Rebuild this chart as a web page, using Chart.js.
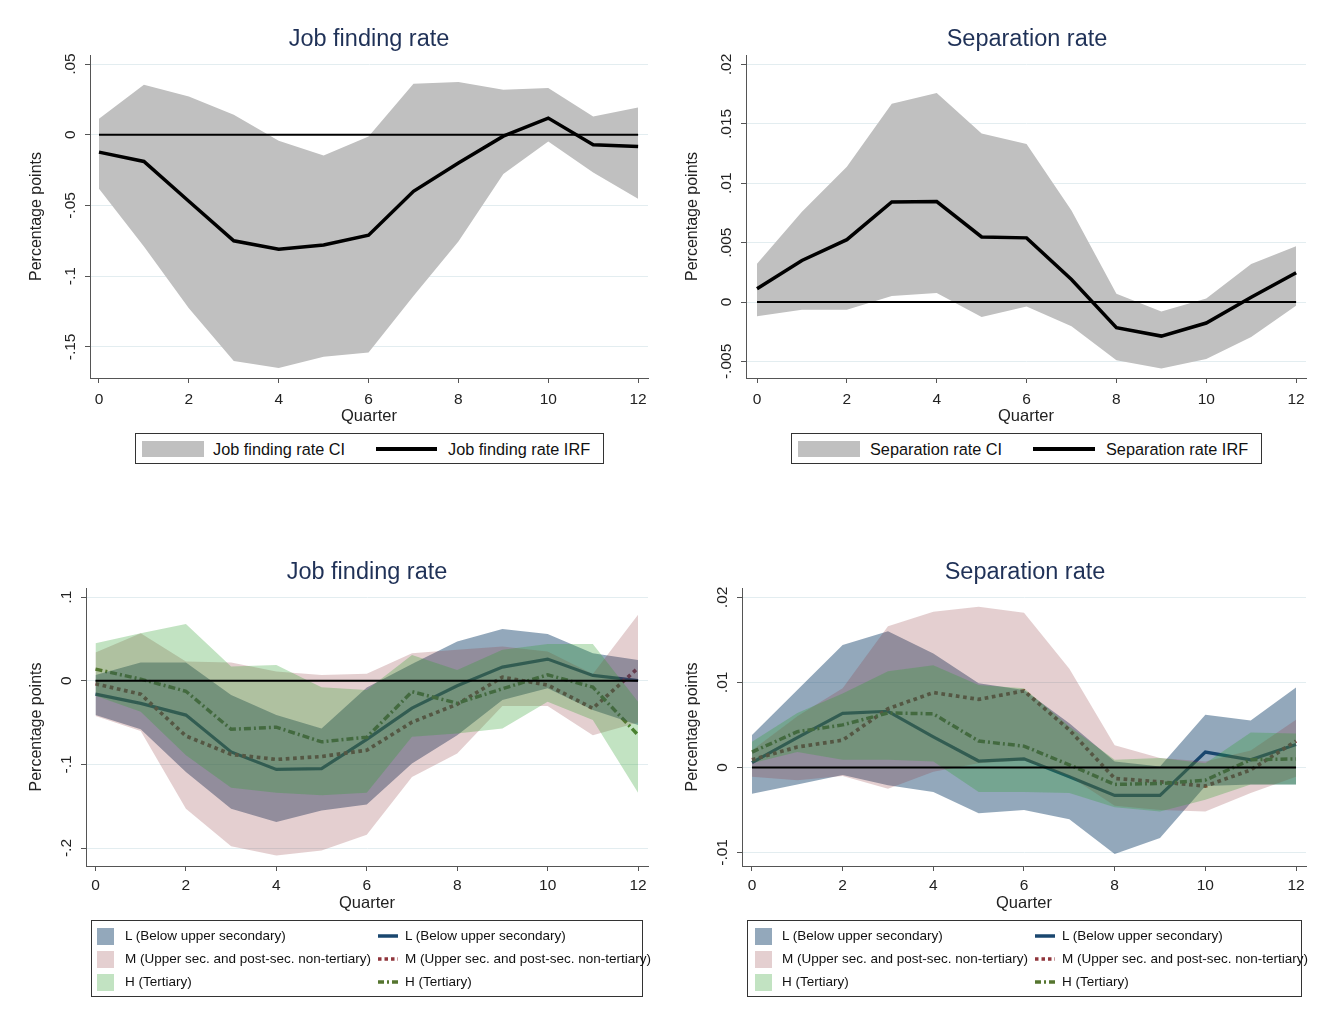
<!DOCTYPE html>
<html>
<head>
<meta charset="utf-8">
<script src="https://cdn.jsdelivr.net/npm/chart.js@4.4.1/dist/chart.umd.min.js"></script>
<style>
  body { margin: 0; background: #fff; font-family: "Liberation Sans", Arial, sans-serif; }
  #page { position: relative; width: 1326px; height: 1015px; overflow: hidden; background: #fff; }
  .panel { position: absolute; }
  .title { position: absolute; font-size: 23.5px; color: #1f3157; transform: translateX(-50%); white-space: nowrap; line-height: 1; }
  .box { position: absolute; border: 1px solid #333; box-sizing: border-box; }
  .lg { position: absolute; white-space: nowrap; color: #111; line-height: 1; }
  .big { font-size: 16.3px; }
  .small { font-size: 13.5px; }
  .sw { position: absolute; }
</style>
</head>
<body>
<div id="page">
  <div class="panel" style="left:0;top:0"><canvas id="c1" width="660" height="430"></canvas></div>
  <div class="panel" style="left:660px;top:0"><canvas id="c2" width="666" height="430"></canvas></div>
  <div class="panel" style="left:0;top:490px"><canvas id="c3" width="660" height="440"></canvas></div>
  <div class="panel" style="left:660px;top:490px"><canvas id="c4" width="666" height="440"></canvas></div>

  <div class="title" style="left:369px;top:27px">Job finding rate</div>
  <div class="title" style="left:1027px;top:27px">Separation rate</div>
  <div class="title" style="left:367px;top:560px">Job finding rate</div>
  <div class="title" style="left:1025px;top:560px">Separation rate</div>

  <!-- top legends -->
  <div class="box" style="left:135px;top:433px;width:469px;height:31px"></div>
  <div class="sw" style="left:142px;top:441px;width:62px;height:16px;background:#c0c0c0"></div>
  <div class="lg big" style="left:213px;top:441px">Job finding rate CI</div>
  <div class="sw" style="left:376px;top:447px;width:61px;height:4px;background:#000"></div>
  <div class="lg big" style="left:448px;top:441px">Job finding rate IRF</div>

  <div class="box" style="left:791px;top:433px;width:471px;height:31px"></div>
  <div class="sw" style="left:798px;top:441px;width:62px;height:16px;background:#c0c0c0"></div>
  <div class="lg big" style="left:870px;top:441px">Separation rate CI</div>
  <div class="sw" style="left:1033px;top:447px;width:62px;height:4px;background:#000"></div>
  <div class="lg big" style="left:1106px;top:441px">Separation rate IRF</div>

  <div id="legBL"></div>
  <div id="legBR"></div>
</div>

<script>
// ---- data ----
var quarters = [0, 1, 2, 3, 4, 5, 6, 7, 8, 9, 10, 11, 12];
var xTicks = [0, 2, 4, 6, 8, 10, 12];

// pooled job finding rate
var jfIrf   = [-0.0123, -0.0189, -0.047, -0.075, -0.081, -0.078, -0.071, -0.040, -0.020, -0.001, 0.0118, -0.0071, -0.0083];
var jfUpper = [0.0113, 0.0354, 0.0271, 0.0142, -0.0042, -0.0146, -0.0012, 0.0361, 0.0373, 0.0318, 0.033, 0.013, 0.0193];
var jfLower = [-0.0382, -0.079, -0.1226, -0.160, -0.165, -0.157, -0.154, -0.114, -0.0755, -0.0278, -0.0047, -0.0267, -0.0453];

// pooled separation rate
var srIrf   = [0.00112, 0.0035, 0.00525, 0.00843, 0.00846, 0.00548, 0.0054, 0.0019, -0.00216, -0.00287, -0.00177, 0.0004, 0.00247];
var srUpper = [0.00323, 0.0076, 0.0114, 0.0167, 0.0176, 0.0142, 0.0133, 0.0077, 0.0007, -0.0008, 0.0003, 0.0032, 0.0047];
var srLower = [-0.0012, -0.00065, -0.00065, 0.0005, 0.00076, -0.00126, -0.00037, -0.00205, -0.0049, -0.0056, -0.0048, -0.00295, -0.0003];

// job finding rate by education
var jfL = [-0.016, -0.027, -0.041, -0.085, -0.106, -0.105, -0.07, -0.0327, -0.006, 0.0164, 0.026, 0.0064, 0.0004];
var jfM = [-0.0036, -0.016, -0.066, -0.088, -0.094, -0.0906, -0.083, -0.0495, -0.028, 0.0044, -0.005, -0.033, 0.0152];
var jfH = [0.014, 0.002, -0.0125, -0.058, -0.0555, -0.073, -0.0675, -0.013, -0.0268, -0.0095, 0.0072, -0.0076, -0.0648];
var jfLUpper = [0.007, 0.022, 0.022, -0.017, -0.041, -0.057, -0.008, 0.02, 0.047, 0.062, 0.056, 0.033, 0.025];
var jfLLower = [-0.041, -0.058, -0.109, -0.153, -0.169, -0.155, -0.148, -0.099, -0.065, -0.023, -0.009, -0.035, -0.053];
var jfMUpper = [0.034, 0.057, 0.023, 0.022, 0.011, 0.007, 0.0084, 0.033, 0.037, 0.041, 0.035, 0.008, 0.079];
var jfMLower = [-0.042, -0.06, -0.153, -0.198, -0.209, -0.203, -0.184, -0.115, -0.087, -0.03, -0.03, -0.065, -0.05];
var jfHUpper = [0.045, 0.057, 0.068, 0.017, 0.019, -0.0076, -0.011, 0.031, 0.013, 0.037, 0.044, 0.044, -0.025];
var jfHLower = [-0.018, -0.037, -0.089, -0.128, -0.134, -0.137, -0.134, -0.067, -0.063, -0.057, -0.025, -0.047, -0.134];

// separation rate by education
var srL = [0.00055, 0.0035, 0.00635, 0.0066, 0.0036, 0.00075, 0.001, -0.0011, -0.0033, -0.0033, 0.0018, 0.0009, 0.0027];
var srM = [0.0009, 0.0024, 0.0032, 0.0069, 0.0088, 0.008, 0.009, 0.0044, -0.0013, -0.0017, -0.0022, -0.0003, 0.0031];
var srH = [0.0018, 0.0042, 0.005, 0.0064, 0.0063, 0.0031, 0.0025, 0.0003, -0.002, -0.0019, -0.0015, 0.0009, 0.001];
var srLUpper = [0.0038, 0.0091, 0.0144, 0.016, 0.0134, 0.0099, 0.0091, 0.0052, 0.0007, 0.0001, 0.0062, 0.0055, 0.0094];
var srLLower = [-0.0031, -0.002, -0.0009, -0.0021, -0.0029, -0.0054, -0.005, -0.0061, -0.0102, -0.0083, -0.0022, -0.002, -0.002];
var srMUpper = [0.002, 0.006, 0.0093, 0.0166, 0.0183, 0.0189, 0.0182, 0.0116, 0.0026, 0.0011, 0.0007, 0.002, 0.0056];
var srMLower = [-0.0011, -0.0015, -0.001, -0.0025, -0.0005, 0.0005, 0.0008, -0.001, -0.0045, -0.005, -0.0052, -0.003, -0.0011];
var srHUpper = [0.003, 0.0064, 0.0087, 0.0113, 0.012, 0.0097, 0.0093, 0.0048, 0.0009, 0.0011, 0.0005, 0.0041, 0.004];
var srHLower = [0.0005, 0.0018, 0.0009, 0.0009, 0.0007, -0.0029, -0.0029, -0.003, -0.0047, -0.0052, -0.0038, -0.002, -0.002];

var zeroLine = [0, 0];
var zeroX = [0, 12];

// tick labels
var jfTicks = [-0.15, -0.1, -0.05, 0, 0.05];
var jfTickLabels = ['-.15', '-.1', '-.05', '0', '.05'];
var srTicks = [-0.005, 0, 0.005, 0.01, 0.015, 0.02];
var srTickLabels = ['-.005', '0', '.005', '.01', '.015', '.02'];
var jfEduTicks = [-0.2, -0.1, 0, 0.1];
var jfEduTickLabels = ['-.2', '-.1', '0', '.1'];
var srEduTicks = [-0.01, 0, 0.01, 0.02];
var srEduTickLabels = ['-.01', '0', '.01', '.02'];

var eduNames = ['L (Below upper secondary)', 'M (Upper sec. and post-sec. non-tertiary)', 'H (Tertiary)'];

// ---- styles ----
var FONT = '"Liberation Sans", Arial, sans-serif';
var navy = '#1a476f', maroon = '#90353b', forest = '#55752f';
var areaL = 'rgba(26,71,111,0.47)', areaM = 'rgba(144,53,59,0.24)', areaH = 'rgba(44,160,44,0.29)';
var none = 'rgba(0,0,0,0)';

function pts(xs, ys) {
    return ys.map(function (y, i) { return { x: xs[i], y: y }; });
}

function line(data, color, width, dash) {
    return { data: pts(quarters, data), borderColor: color, borderWidth: width, borderDash: dash || [],
             pointRadius: 0, fill: false, borderCapStyle: 'butt', borderJoinStyle: 'miter' };
}
function zero() {
    return { data: pts(zeroX, zeroLine), borderColor: '#000', borderWidth: 2, pointRadius: 0, fill: false };
}
function bandTop(data, color) {
    return { data: pts(quarters, data), borderColor: none, borderWidth: 0, pointRadius: 0, fill: '+1', backgroundColor: color };
}
function bandBottom(data) {
    return { data: pts(quarters, data), borderColor: none, borderWidth: 0, pointRadius: 0, fill: false };
}

// y tick labels, rotated like the original
function rotLabels(values, labels) {
    return {
        id: 'rotLabels',
        afterDraw: function (chart) {
            var s = chart.scales.y, ctx = chart.ctx;
            ctx.save();
            ctx.font = '15.5px ' + FONT;
            ctx.fillStyle = '#222';
            ctx.textAlign = 'center';
            ctx.textBaseline = 'middle';
            for (var i = 0; i < values.length; i++) {
                ctx.save();
                ctx.translate(chart.chartArea.left - 19, s.getPixelForValue(values[i]));
                ctx.rotate(-Math.PI / 2);
                ctx.fillText(labels[i], 0, 0);
                ctx.restore();
            }
            ctx.restore();
        }
    };
}

function makePanel(id, p) {
    var ctx = document.getElementById(id).getContext('2d');
    return new Chart(ctx, {
        type: 'line',
        data: { datasets: p.datasets },
        plugins: [rotLabels(p.yTicks, p.yLabels)],
        options: {
            responsive: false,
            animation: false,
            layout: { padding: p.padding },
            plugins: { legend: { display: false }, tooltip: { enabled: false } },
            scales: {
                x: {
                    type: 'linear', min: p.xMin, max: p.xMax,
                    afterBuildTicks: function (s) { s.ticks = xTicks.map(function (v) { return { value: v }; }); },
                    afterFit: function (s) { s.height = 52; },
                    grid: { drawOnChartArea: false, drawTicks: true, tickLength: 5, tickColor: '#555' },
                    border: { display: true, color: '#555', width: 1 },
                    ticks: { color: '#222', font: { family: FONT, size: 15.5 }, padding: p.xTickPad, maxRotation: 0,
                             autoSkip: false, callback: function (v) { return String(v); } },
                    title: { display: true, text: 'Quarter', color: '#222', font: { family: FONT, size: 16.5 },
                             padding: { top: 0, bottom: p.xTitlePad } }
                },
                y: {
                    min: p.yMin, max: p.yMax,
                    afterBuildTicks: function (s) { s.ticks = p.yTicks.map(function (v) { return { value: v }; }); },
                    afterFit: function (s) { s.width = p.yWidth; },
                    grid: { color: '#e3edf0', lineWidth: 1, drawTicks: true, tickLength: 5, tickColor: '#555' },
                    border: { display: true, color: '#555', width: 1 },
                    ticks: { display: false, autoSkip: false },
                    title: { display: true, text: 'Percentage points', color: '#222', font: { family: FONT, size: 16 },
                             padding: { top: p.yTitlePad, bottom: 0 } }
                }
            }
        }
    });
}

// top left: job finding rate
makePanel('c1', {
    datasets: [line(jfIrf, '#000', 3.5), zero(), bandTop(jfUpper, '#c0c0c0'), bandBottom(jfLower)],
    yMin: -0.172, yMax: 0.0564, yTicks: jfTicks, yLabels: jfTickLabels,
    xMin: -0.2, xMax: 12.22, yWidth: 90, yTitlePad: 27.4, xTitlePad: 3.2, xTickPad: 7,
    padding: { left: 0, top: 55, right: 12, bottom: 0 }
});

// top right: separation rate
makePanel('c2', {
    datasets: [line(srIrf, '#000', 3.5), zero(), bandTop(srUpper, '#c0c0c0'), bandBottom(srLower)],
    yMin: -0.0064, yMax: 0.0208, yTicks: srTicks, yLabels: srTickLabels,
    xMin: -0.245, xMax: 12.22, yWidth: 86, yTitlePad: 23.4, xTitlePad: 3.2, xTickPad: 7,
    padding: { left: 0, top: 55, right: 20, bottom: 0 }
});

function eduSets(L, M, H, LU, LL, MU, ML, HU, HL) {
    return [
        zero(),
        bandTop(HU, areaH), bandBottom(HL),
        bandTop(MU, areaM), bandBottom(ML),
        bandTop(LU, areaL), bandBottom(LL),
        line(H, forest, 3.5, [7, 3, 2, 3]),
        line(M, maroon, 3.7, [3.7, 3.6]),
        line(L, navy, 3.2)
    ];
}

// bottom left: job finding by education
makePanel('c3', {
    datasets: eduSets(jfL, jfM, jfH, jfLUpper, jfLLower, jfMUpper, jfMLower, jfHUpper, jfHLower),
    yMin: -0.2215, yMax: 0.111, yTicks: jfEduTicks, yLabels: jfEduTickLabels,
    xMin: -0.21, xMax: 12.22, yWidth: 86, yTitlePad: 27.4, xTitlePad: 4.6, xTickPad: 5,
    padding: { left: 0, top: 98, right: 12, bottom: 12 }
});

// bottom right: separation by education
makePanel('c4', {
    datasets: eduSets(srL, srM, srH, srLUpper, srLLower, srMUpper, srMLower, srHUpper, srHLower),
    yMin: -0.0116, yMax: 0.0211, yTicks: srEduTicks, yLabels: srEduTickLabels,
    xMin: -0.22, xMax: 12.22, yWidth: 82, yTitlePad: 23.4, xTitlePad: 4.6, xTickPad: 5,
    padding: { left: 0, top: 98, right: 20, bottom: 12 }
});

// ---- education legends ----
function lineSample(color, width, dash) {
    return '<svg width="20" height="8" style="display:block"><line x1="0" y1="4" x2="20" y2="4" stroke="' + color +
        '" stroke-width="' + width + '" stroke-dasharray="' + dash + '"/></svg>';
}
function eduLegend(elId, box, swX, txX, lnX, ln2X) {
    var fills = [areaL, areaM, areaH];
    var lines = [lineSample(navy, 3.5, 'none'), lineSample(maroon, 3.5, '3.5 3'), lineSample(forest, 3.5, '6 3 2 3')];
    var rows = [936, 959, 982];
    var html = '<div class="box" style="left:' + box[0] + 'px;top:' + box[1] + 'px;width:' + box[2] + 'px;height:' + box[3] + 'px"></div>';
    for (var i = 0; i < 3; i++) {
        var c = rows[i];
        html += '<div class="sw" style="left:' + swX + 'px;top:' + (c - 8.5) + 'px;width:17px;height:17px;background:' + fills[i] + '"></div>';
        html += '<div class="lg small" style="left:' + txX + 'px;top:' + (c - 7) + 'px">' + eduNames[i] + '</div>';
        html += '<div class="sw" style="left:' + lnX + 'px;top:' + (c - 4) + 'px">' + lines[i] + '</div>';
        html += '<div class="lg small" style="left:' + ln2X + 'px;top:' + (c - 7) + 'px">' + eduNames[i] + '</div>';
    }
    document.getElementById(elId).innerHTML = html;
}
eduLegend('legBL', [91, 920, 552, 77], 97, 125, 378, 405);
eduLegend('legBR', [747, 920, 555, 77], 755, 782, 1035, 1062);
</script>
</body>
</html>
